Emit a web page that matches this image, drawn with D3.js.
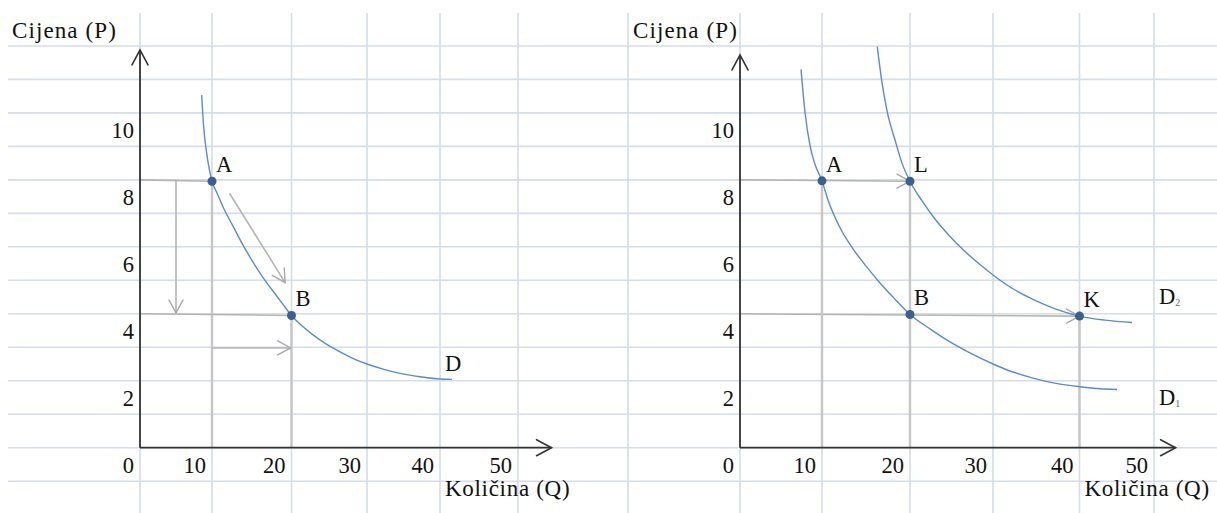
<!DOCTYPE html>
<html><head><meta charset="utf-8">
<script src="https://cdn.jsdelivr.net/npm/d3@7"></script>
<style>
body{margin:0;background:#fff}
svg{display:block}
text{font-family:"Liberation Serif","Times New Roman",serif;fill:#111}
</style>
</head><body><svg id="c" width="1217" height="513"></svg>
<script>
// ---------- data ----------
const qTicks = [0, 10, 20, 30, 40, 50];
const pTicks = [2, 4, 6, 8, 10];
const gridRows = d3.range(-1, 13);
const yTitle = "Cijena (P)";
const xTitle = "Količina (Q)";

// left panel: demand curve D
const leftDQ = [8.57, 8.82, 9.24, 9.65, 10, 10.63, 11.51, 12.64, 13.90, 15.16, 16.42, 17.67, 18.81, 20,
                21.39, 22.85, 24.57, 26.42, 28.41, 30, 32.33, 34.52, 37.26, 40, 41.54];
const leftDP = [10.53, 9.64, 8.83, 8.29, 7.96, 7.61, 7.13, 6.62, 6.05, 5.54, 5.08, 4.68, 4.32, 3.95,
                3.64, 3.37, 3.10, 2.86, 2.64, 2.50, 2.34, 2.22, 2.12, 2.05, 2.04];
const leftPtNames = ["A", "B"];
const leftPtQ = [10, 20];
const leftPtP = [7.96, 3.95];

// right panel: D1 and D2
const d1Q = [7.44, 7.93, 8.54, 9.15, 10, 10.68, 12.05, 13.52, 15.08, 16.59, 18.10, 20,
             22.41, 24.82, 27.23, 30, 32.31, 34.62, 37.28, 40.07, 42.75, 45.03];
const d1P = [11.30, 10.02, 9.02, 8.46, 7.97, 7.40, 6.57, 5.94, 5.40, 4.92, 4.49, 3.98,
             3.55, 3.16, 2.83, 2.50, 2.26, 2.08, 1.92, 1.82, 1.76, 1.74];
const d2Q = [16.28, 16.76, 17.42, 18.30, 19.09, 20, 21.45, 23.01, 24.82, 26.63, 28.43, 30,
             31.97, 34.62, 37.28, 40, 43.42, 47.05];
const d2P = [11.98, 11.01, 10.02, 9.19, 8.50, 7.96, 7.37, 6.83, 6.31, 5.86, 5.47, 5.16,
             4.80, 4.43, 4.14, 3.93, 3.81, 3.74];
const rightPtNames = ["A", "L", "B", "K"];
const rightPtQ = [10, 20, 20, 40];
const rightPtP = [7.97, 7.96, 3.98, 3.93];

// guide lines [q1, p1, q2, p2, kind]  kind: h = horizontal guide, v = drop line, a/ha = arrow
const leftGuides = [
  [0, 8, 10, 7.96, "h"], [10, 7.96, 10, 0, "v"], [5, 8, 5, 4.02, "a"],
  [0, 4, 20, 3.95, "h"], [20, 3.95, 20, 0, "v"], [10, 2.98, 19.9, 2.98, "a"],
  [12.2, 7.6, 19.2, 4.93, "a"]
];
const rightGuides = [
  [0, 8, 20, 7.96, "ha"], [0, 4, 40, 3.93, "ha"],
  [10, 7.97, 10, 0, "v"], [20, 7.96, 20, 0, "v"], [40, 3.93, 40, 0, "v"]
];
const curveLabels = [ // panel, text, subscript, q, p (cell)
  ["L", "D", "", 40, 3],
  ["R", "D", "2", 50, 5],
  ["R", "D", "1", 50, 2]
];
const axisEnds = { L: [54.3, 11.88], R: [52.9, 11.73] };

// ---------- scales ----------
const W = 1217, H = 513;
const y = d3.scaleLinear().domain([0, 12]).range([447.7, 447.7 - 12 * 33.48]);
const xL = d3.scaleLinear().domain(qTicks).range([140, 212, 291.5, 367, 440, 518]);
const xR = d3.scaleLinear().domain(qTicks).range([740, 822, 910, 993, 1079.5, 1154]);
const sepX = 628;

const svg = d3.select("#c");
svg.append("rect").attr("width", W).attr("height", H).attr("fill", "#fff");

// ---------- background grid ----------
const grid = svg.append("g").attr("stroke", "#d5dcea").attr("stroke-width", 1.6);
grid.selectAll("line.r").data(gridRows).join("line")
  .attr("x1", 8).attr("x2", W).attr("y1", d => y(d)).attr("y2", d => y(d));
const vcols = qTicks.map(q => xL(q)).concat([sepX]).concat(qTicks.map(q => xR(q)));
grid.selectAll("line.c").data(vcols).join("line")
  .attr("x1", d => d).attr("x2", d => d).attr("y1", 13).attr("y2", H);

function arrowHead(g, x1, y1, x2, y2, color, width, len, half) {
  const ang = Math.atan2(y2 - y1, x2 - x1) * 180 / Math.PI;
  g.append("path")
    .attr("d", `M${-len},${-half} L0,0 L${-len},${half}`)
    .attr("transform", `translate(${x2},${y2}) rotate(${ang})`)
    .attr("fill", "none").attr("stroke", color).attr("stroke-width", width)
    .attr("stroke-linecap", "round").attr("stroke-linejoin", "miter");
}

function panel(id, x, curves, ptNames, ptQ, ptP, guides) {
  const g = svg.append("g");
  // guides
  guides.forEach(([q1, p1, q2, p2, kind]) => {
    const X1 = x(q1), Y1 = y(p1), X2 = x(q2), Y2 = y(p2);
    const col = kind === "v" ? "#c6c6c6" : "#b4b4b4";
    const sw = kind === "v" ? 2.4 : 1.6;
    g.append("line").attr("x1", X1).attr("y1", Y1).attr("x2", X2).attr("y2", Y2)
      .attr("stroke", col).attr("stroke-width", sw);
    if (kind === "a" || kind === "ha") arrowHead(g, X1, Y1, X2, Y2, "#a8a8a8", 1.4, 13, 7);
  });
  // axes
  const [qe, pe] = axisEnds[id];
  const ax = g.append("g");
  ax.append("line").attr("x1", x(0)).attr("y1", y(0)).attr("x2", x(qe)).attr("y2", y(0))
    .attr("stroke", "#333").attr("stroke-width", 1.8);
  ax.append("line").attr("x1", x(0)).attr("y1", y(0)).attr("x2", x(0)).attr("y2", y(pe))
    .attr("stroke", "#333").attr("stroke-width", 1.8);
  arrowHead(ax, x(0), y(0), x(qe), y(0), "#333", 1.6, 15, 8);
  arrowHead(ax, x(0), y(0), x(0), y(pe), "#333", 1.6, 15, 8);
  // curves
  const line = d3.line().x(d => x(d[0])).y(d => y(d[1])).curve(d3.curveMonotoneX);
  curves.forEach(([qs, ps]) => {
    g.append("path").attr("d", line(qs.map((q, i) => [q, ps[i]])))
      .attr("fill", "none").attr("stroke", "#5b8bc8").attr("stroke-width", 1.4);
  });
  // points
  g.selectAll("circle").data(ptNames).join("circle")
    .attr("cx", (d, i) => x(ptQ[i])).attr("cy", (d, i) => y(ptP[i])).attr("r", 4.5)
    .attr("fill", "#3b5f8f");
  g.selectAll("text.pt").data(ptNames).join("text").attr("class", "pt")
    .attr("x", (d, i) => x(ptQ[i]) + 4).attr("y", (d, i) => y(ptP[i]) - 9)
    .attr("font-size", 22.5).text(d => d);
  // tick labels
  g.selectAll("text.xt").data(qTicks).join("text").attr("class", "xt")
    .attr("x", d => x(d) - 6).attr("y", y(0) + 25).attr("text-anchor", "end")
    .attr("font-size", 22.5).text(d => d);
  g.selectAll("text.yt").data(pTicks).join("text").attr("class", "yt")
    .attr("x", x(0) - 6).attr("y", d => y(d) + 25).attr("text-anchor", "end")
    .attr("font-size", 22.5).text(d => d);
  // titles
  g.append("text").attr("x", id === "L" ? 12 : sepX + 5).attr("y", 38)
    .attr("font-size", 23).attr("letter-spacing", 1.1).text(yTitle);
  g.append("text").attr("x", x(40) + 5).attr("y", 496)
    .attr("font-size", 23).attr("letter-spacing", 0.7).text(xTitle);
  // curve labels
  curveLabels.filter(c => c[0] === id).forEach(([pid, t, sub, q, p]) => {
    const tx = g.append("text").attr("x", x(q) + 5).attr("y", y(p) + 24).attr("font-size", 22.5);
    tx.append("tspan").text(t);
    if (sub) tx.append("tspan").attr("font-size", 10).attr("dy", 2).attr("fill", "#666").text(sub);
  });
}

panel("L", xL, [[leftDQ, leftDP]], leftPtNames, leftPtQ, leftPtP, leftGuides);
panel("R", xR, [[d1Q, d1P], [d2Q, d2P]], rightPtNames, rightPtQ, rightPtP, rightGuides);
</script>
</body></html>
